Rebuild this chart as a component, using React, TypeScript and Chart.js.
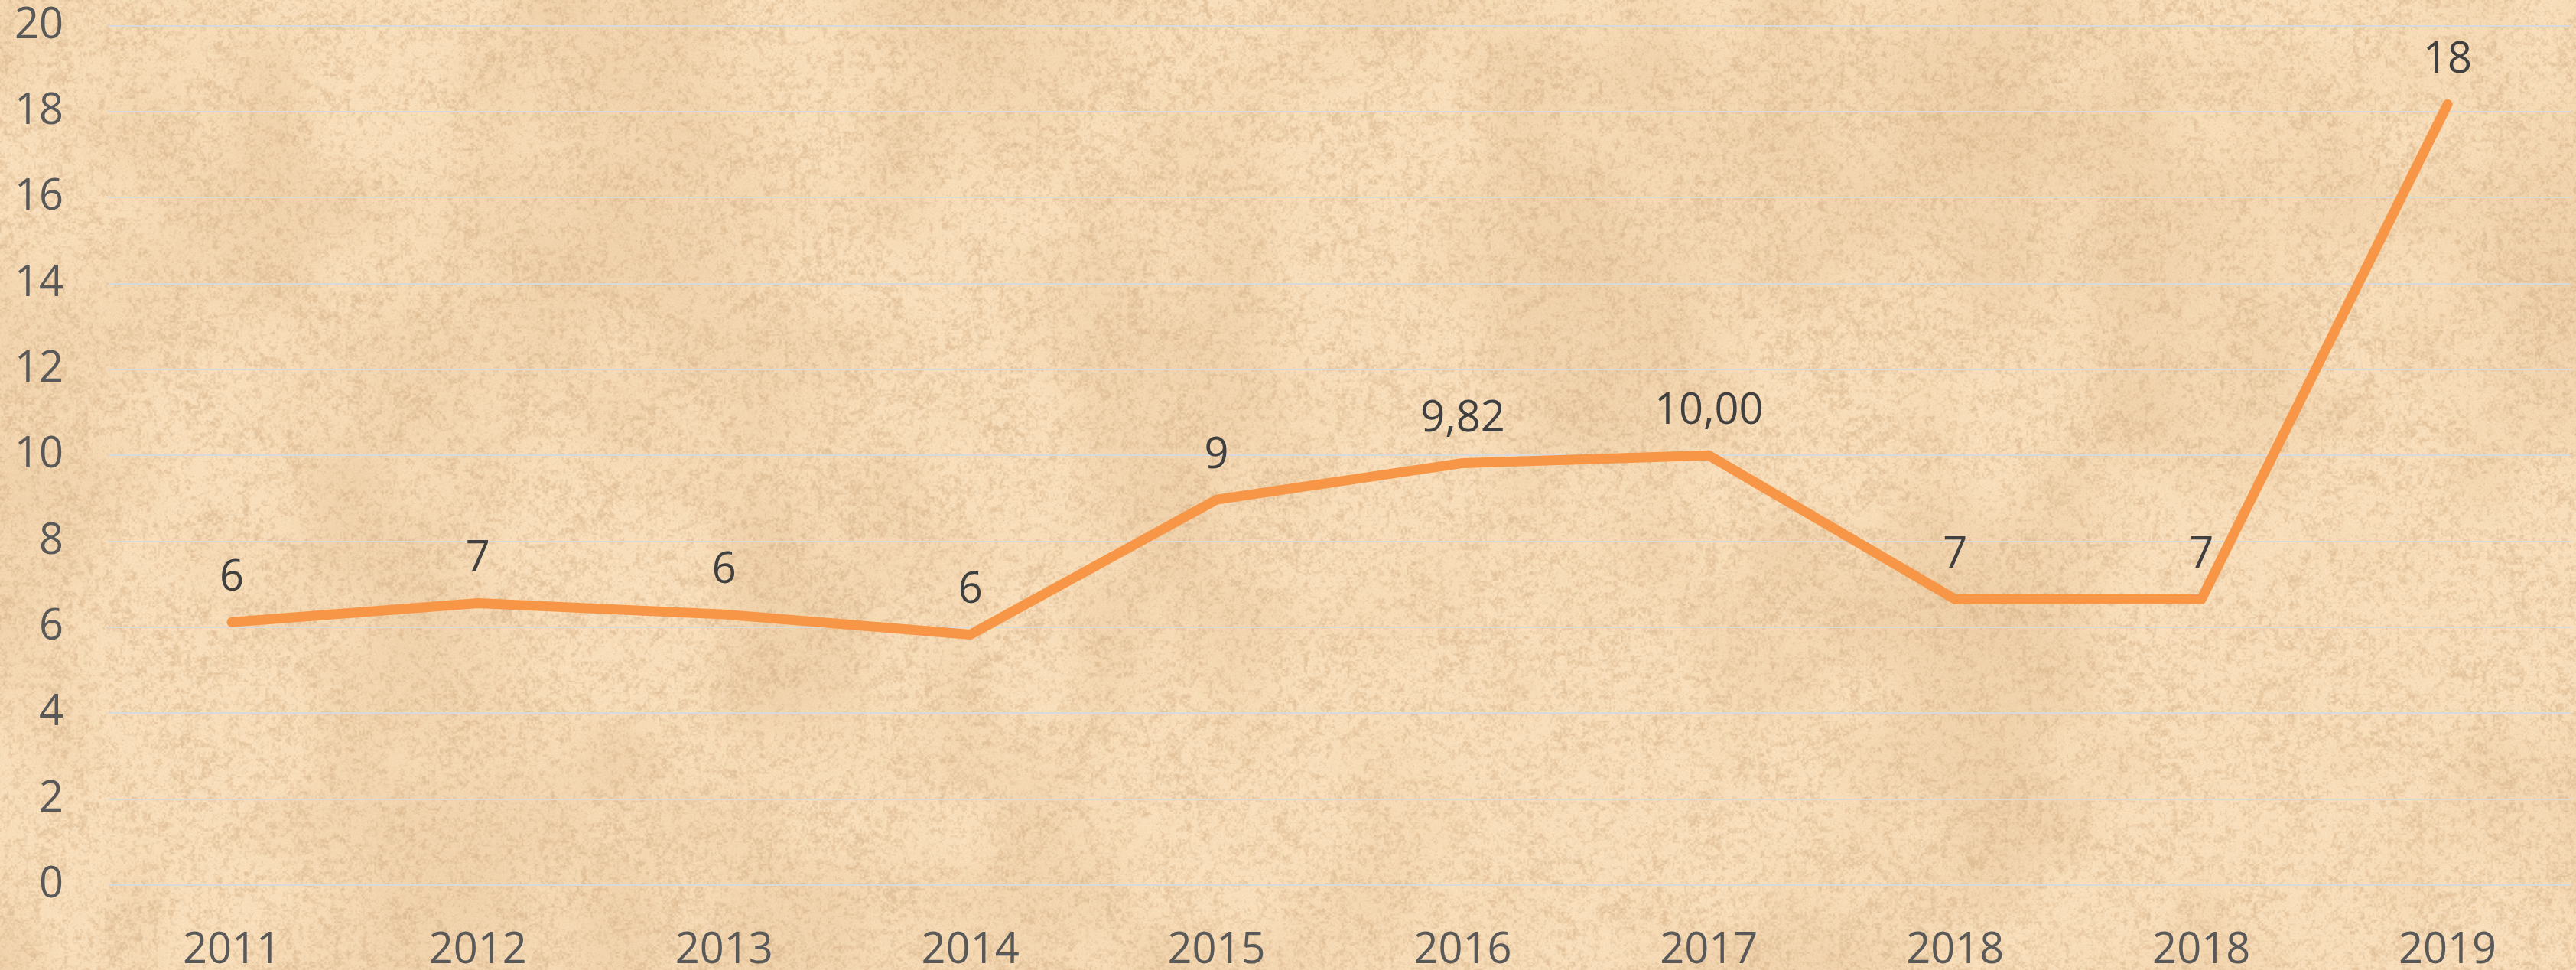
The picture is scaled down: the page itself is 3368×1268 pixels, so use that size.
import { useEffect, useRef } from 'react';
import { Chart, registerables } from 'chart.js';

Chart.register(...registerables);

const W = 3368;
const H = 1268;

const categories = ['2011', '2012', '2013', '2014', '2015', '2016', '2017', '2018', '2018', '2019'];
const values = [6.12, 6.56, 6.3, 5.83, 8.97, 9.82, 10.0, 6.65, 6.65, 18.17];
const valueLabels = ['6', '7', '6', '6', '9', '9,82', '10,00', '7', '7', '18'];
const yMin = 0;
const yMax = 20;
const yStep = 2;

const FONT = '"Open Sans", "Noto Sans", sans-serif';

function hash(x: number, y: number, s: number): number {
  let h = Math.imul(x | 0, 374761393) ^ Math.imul(y | 0, 668265263) ^ Math.imul(s | 0, 982451653);
  h = Math.imul(h ^ (h >>> 13), 1274126177);
  h = h ^ (h >>> 16);
  return (h >>> 0) / 4294967295;
}

function vnoise(x: number, y: number, scale: number, seed: number): number {
  const gx = x / scale;
  const gy = y / scale;
  const x0 = Math.floor(gx);
  const y0 = Math.floor(gy);
  const fx = gx - x0;
  const fy = gy - y0;
  const sx = fx * fx * (3 - 2 * fx);
  const sy = fy * fy * (3 - 2 * fy);
  const a = hash(x0, y0, seed);
  const b = hash(x0 + 1, y0, seed);
  const c = hash(x0, y0 + 1, seed);
  const d = hash(x0 + 1, y0 + 1, seed);
  const top = a + (b - a) * sx;
  const bot = c + (d - c) * sx;
  return top + (bot - top) * sy;
}

function makeTexture(): HTMLCanvasElement {
  const full = document.createElement('canvas');
  full.width = W;
  full.height = H;
  const ctx = full.getContext('2d')!;
  const img = ctx.createImageData(W, H);
  const d = img.data;
  const light = [248, 222, 186];
  const mid = [235, 203, 162];
  const speck = [200, 160, 116];
  for (let y = 0; y < H; y++) {
    for (let x = 0; x < W; x++) {
      const big = 0.6 * vnoise(x, y, 260, 1) + 0.4 * vnoise(x, y, 90, 2);
      let tb = (big - 0.35) * 1.3;
      tb = tb < 0 ? 0 : tb > 1 ? 1 : tb;
      let r = light[0] + (mid[0] - light[0]) * tb;
      let g = light[1] + (mid[1] - light[1]) * tb;
      let b = light[2] + (mid[2] - light[2]) * tb;
      const fine = 0.55 * vnoise(x, y, 2.5, 11) + 0.45 * vnoise(x, y, 7, 12);
      const clump = vnoise(x, y, 40, 13);
      let ts = (fine - 0.5 + clump * 0.15) * 2.2;
      ts = ts < 0 ? 0 : ts > 1 ? 1 : ts;
      ts *= 0.42;
      r += (speck[0] - r) * ts;
      g += (speck[1] - g) * ts;
      b += (speck[2] - b) * ts;
      const grain = (hash(x, y, 7) - 0.5) * 8;
      const i = (y * W + x) * 4;
      d[i] = r + grain;
      d[i + 1] = g + grain;
      d[i + 2] = b + grain;
      d[i + 3] = 255;
    }
  }
  ctx.putImageData(img, 0, 0);
  return full;
}

export default function App() {
  const ref = useRef<HTMLCanvasElement>(null);

  useEffect(() => {
    const texture = makeTexture();

    const bgPlugin = {
      id: 'paperBg',
      beforeDraw(chart: any) {
        chart.ctx.save();
        chart.ctx.drawImage(texture, 0, 0, chart.width, chart.height);
        chart.ctx.restore();
      },
    };

    const labelPlugin = {
      id: 'valueLabels',
      afterDatasetsDraw(chart: any) {
        const ctx = chart.ctx;
        const meta = chart.getDatasetMeta(0);
        ctx.save();
        ctx.font = `56px ${FONT}`;
        ctx.fillStyle = '#404040';
        ctx.textAlign = 'center';
        ctx.textBaseline = 'middle';
        meta.data.forEach((pt: any, i: number) => {
          ctx.fillText(valueLabels[i], pt.x, pt.y - 57);
        });
        ctx.restore();
      },
    };

    const chart = new Chart(ref.current!, {
      type: 'line',
      data: {
        labels: categories,
        datasets: [
          {
            data: values,
            borderColor: '#F79646',
            borderWidth: 13,
            borderJoinStyle: 'round',
            borderCapStyle: 'round',
            pointRadius: 0,
            pointHoverRadius: 0,
            tension: 0,
            fill: false,
          },
        ],
      },
      options: {
        responsive: false,
        animation: false,
        devicePixelRatio: 1,
        layout: { padding: { top: 33, right: 7, left: 0, bottom: 0 } },
        plugins: {
          legend: { display: false },
          tooltip: { enabled: false },
          title: { display: false },
        },
        scales: {
          x: {
            type: 'category',
            offset: true,
            grid: { display: false, drawTicks: false },
            border: { display: false },
            ticks: {
              color: '#595959',
              font: { family: FONT, size: 56 },
              padding: 52,
              maxRotation: 0,
              autoSkip: false,
            },
            afterFit(scale: any) {
              scale.height = 111;
            },
          },
          y: {
            min: yMin,
            max: yMax,
            grid: { color: '#D9D9D9', lineWidth: 2, drawTicks: true, tickLength: 59, tickColor: 'rgba(0,0,0,0)' },
            border: { display: false },
            ticks: {
              stepSize: yStep,
              color: '#595959',
              font: { family: FONT, size: 56 },
              padding: 0,
            },
            afterFit(scale: any) {
              scale.width = 142;
            },
          },
        },
      },
      plugins: [bgPlugin, labelPlugin],
    } as any);

    return () => chart.destroy();
  }, []);

  return (
    <div style={{ position: 'fixed', left: 0, top: 0, width: W, height: H, overflow: 'hidden' }}>
      <canvas ref={ref} width={W} height={H} style={{ display: 'block', width: W, height: H }} />
    </div>
  );
}
